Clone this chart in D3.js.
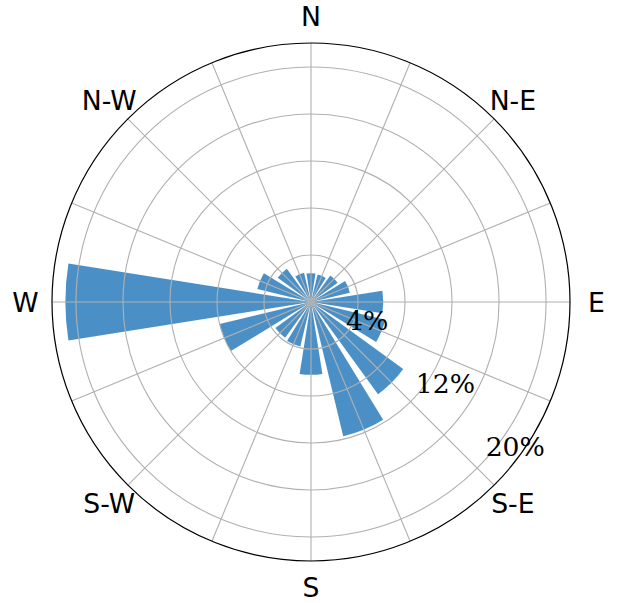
<!DOCTYPE html>
<html>
<head>
<meta charset="utf-8">
<script src="https://cdn.jsdelivr.net/npm/d3@7"></script>
<style>
  body { margin: 0; background: #fff; }
</style>
</head>
<body>
<svg id="chart"></svg>
<script>
// 16 wind directions, frequency in percent
const directions = ["N", "NNE", "NE", "ENE", "E", "ESE", "SE", "SSE",
                    "S", "SSW", "SW", "WSW", "W", "WNW", "NW", "NNW"];
const frequency = [2.45, 2.4, 2.8, 3.4, 6.15, 6.5, 9.7, 11.75,
                   6.2, 3.9, 3.75, 8.0, 20.9, 4.7, 3.5, 2.55];

const compassLabels = ["N", "N-E", "E", "S-E", "S", "S-W", "W", "N-W"];
const radialTicks = [4, 8, 12, 16, 20];
const radialLabels = [4, 12, 20];
const maxValue = 22.04;

const width = 618, height = 603;
const cx = 311, cy = 302;
const outerRadius = 259;

const svg = d3.select("#chart")
  .attr("width", width)
  .attr("height", height);

const g = svg.append("g")
  .attr("transform", `translate(${cx},${cy})`);

const r = d3.scaleLinear()
  .domain([0, maxValue])
  .range([0, outerRadius]);

const sector = 2 * Math.PI / directions.length;
const opening = 0.8;

const theta = d3.scaleBand()
  .domain(directions)
  .range([0, 2 * Math.PI]);

// bars (drawn first, grid sits on top like in the original)
const arc = d3.arc()
  .innerRadius(0)
  .outerRadius(d => r(d.value))
  .startAngle(d => theta(d.dir) - sector * opening / 2)
  .endAngle(d => theta(d.dir) + sector * opening / 2);

g.append("g")
  .selectAll("path")
  .data(directions.map((dir, i) => ({ dir, value: frequency[i] })))
  .enter().append("path")
  .attr("d", arc)
  .attr("fill", "#4a90c7");

// radial grid circles
g.append("g")
  .selectAll("circle")
  .data(radialTicks)
  .enter().append("circle")
  .attr("r", d => r(d))
  .attr("fill", "none")
  .attr("stroke", "#b0b0b0")
  .attr("stroke-width", 1.1);

// angular grid lines every 22.5 degrees
g.append("g")
  .selectAll("line")
  .data(directions)
  .enter().append("line")
  .attr("x1", 0)
  .attr("y1", 0)
  .attr("x2", d => outerRadius * Math.sin(theta(d)))
  .attr("y2", d => -outerRadius * Math.cos(theta(d)))
  .attr("stroke", "#b0b0b0")
  .attr("stroke-width", 1.1);

// outer frame
g.append("circle")
  .attr("r", outerRadius)
  .attr("fill", "none")
  .attr("stroke", "#000")
  .attr("stroke-width", 1.2);

// compass labels
const labelRadius = 285.5;
g.append("g")
  .selectAll("text")
  .data(compassLabels)
  .enter().append("text")
  .attr("x", (d, i) => labelRadius * Math.sin(i * Math.PI / 4))
  .attr("y", (d, i) => -labelRadius * Math.cos(i * Math.PI / 4))
  .attr("dy", "0.36em")
  .attr("text-anchor", "middle")
  .style("font-family", "DejaVu Sans")
  .style("font-size", "26.67px")
  .text(d => d);

// radial tick labels along the 132 degree ray
const labelAngle = 132 * Math.PI / 180;
g.append("g")
  .selectAll("text")
  .data(radialLabels)
  .enter().append("text")
  .attr("x", d => r(d) * Math.sin(labelAngle))
  .attr("y", d => -r(d) * Math.cos(labelAngle) - 3.7)
  .attr("text-anchor", "start")
  .style("font-family", "DejaVu Serif")
  .style("font-size", "26.67px")
  .text(d => d + "%");
</script>
</body>
</html>
